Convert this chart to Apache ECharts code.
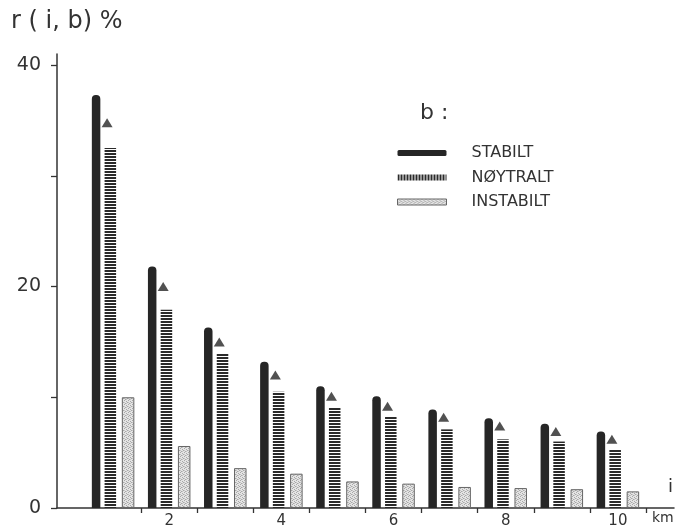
<!DOCTYPE html>
<html>
<head>
<meta charset="utf-8">
<script src="https://cdn.jsdelivr.net/npm/echarts@6/dist/echarts.min.js"></script>
<style>
html,body{margin:0;padding:0;background:#fff;}
#c{width:678px;height:529px;}
</style>
</head>
<body>
<div id="c"></div>
<script>
// ---- data ----
var categories = [1, 2, 3, 4, 5, 6, 7, 8, 9, 10];
var stabilt    = [37.3, 21.8, 16.3, 13.2, 11.0, 10.1, 8.9, 8.1, 7.6, 6.9];
var noytralt   = [32.5, 17.9, 14.0, 10.5, 9.1, 8.3, 7.1, 6.2, 6.0, 5.3];
var instabilt  = [10.0, 5.6, 3.6, 3.1, 2.4, 2.2, 1.9, 1.8, 1.7, 1.5];
var triangles  = [34.8, 20.0, 15.0, 12.0, 10.1, 9.2, 8.2, 7.4, 6.9, 6.2];
var xTickValues  = [1.5, 2.5, 3.5, 4.5, 5.5, 6.5, 7.5, 8.5, 9.5, 10.5];
var xLabelValues = [2, 4, 6, 8, 10];
var yTickValues  = [0, 10, 20, 30, 40];
var yLabelValues = [0, 20, 40];

// ---- patterns ----
function makeCanvas(w, h, draw) {
  var c = document.createElement('canvas');
  c.width = w; c.height = h;
  draw(c.getContext('2d'));
  return c;
}
var hStripe = makeCanvas(4, 3, function (g) {
  g.fillStyle = '#ffffff'; g.fillRect(0, 0, 4, 3);
  g.fillStyle = '#2a2a2a'; g.fillRect(0, 0, 4, 2);
});
var vStripe = makeCanvas(3, 4, function (g) {
  g.fillStyle = '#ffffff'; g.fillRect(0, 0, 3, 4);
  g.fillStyle = '#2a2a2a'; g.fillRect(0, 0, 2, 4);
});
var dots = makeCanvas(4, 4, function (g) {
  g.fillStyle = '#e4e4e4'; g.fillRect(0, 0, 4, 4);
  g.fillStyle = '#a8a8a8';
  g.fillRect(0, 0, 1, 1); g.fillRect(2, 1, 1, 1);
  g.fillRect(1, 3, 1, 1); g.fillRect(3, 2, 1, 1);
  g.fillStyle = '#c4c4c4';
  g.fillRect(2, 3, 1, 1); g.fillRect(0, 2, 1, 1);
});
var hPat = { image: hStripe, repeat: 'repeat' };
var vPat = { image: vStripe, repeat: 'repeat' };
var dPat = { image: dots, repeat: 'repeat' };

function pairs(vals) {
  return categories.map(function (c, i) { return [c, vals[i]]; });
}

var FONT = 'DejaVu Sans';
var ink = '#333333';

var chart = echarts.init(document.getElementById('c'), null, { renderer: 'canvas' });
chart.setOption({
  backgroundColor: '#ffffff',
  animation: false,
  title: [
    { text: 'r ( i, b) %', left: 11, top: 10, padding: 0,
      textStyle: { fontFamily: FONT, fontSize: 24, fontWeight: 'normal', color: ink } },
    { text: 'b :', left: 420, top: 102, padding: 0,
      textStyle: { fontFamily: FONT, fontSize: 22, fontWeight: 'normal', color: ink } },
    { text: 'km', left: 652, top: 511, padding: 0,
      textStyle: { fontFamily: FONT, fontSize: 14, fontWeight: 'normal', color: ink } },
    { text: 'i', left: 668, top: 478, padding: 0,
      textStyle: { fontFamily: FONT, fontSize: 18, fontWeight: 'normal', color: ink } }
  ],
  legend: {
    orient: 'vertical',
    left: 392,
    top: 140,
    itemWidth: 49,
    itemHeight: 6,
    itemGap: 8.5,
    selectedMode: false,
    textStyle: { fontFamily: FONT, fontSize: 16, lineHeight: 16, color: ink, padding: [0, 0, 0, 20] },
    data: [
      { name: 'STABILT', icon: 'roundRect', itemStyle: { color: '#262626' } },
      { name: 'NØYTRALT', icon: 'rect', itemStyle: { color: vPat } },
      { name: 'INSTABILT', icon: 'rect', itemStyle: { color: dPat, borderColor: '#666', borderWidth: 1 } }
    ]
  },
  grid: { left: 57, right: 4, top: 54, bottom: 21, containLabel: false },
  xAxis: {
    type: 'value',
    min: 0,
    max: 11,
    splitLine: { show: false },
    axisLine: { show: true, lineStyle: { color: ink, width: 1.5 } },
    axisTick: { show: true, length: 5, customValues: xTickValues, lineStyle: { color: ink, width: 1.3 } },
    axisLabel: { customValues: xLabelValues, margin: 6, fontFamily: FONT, fontSize: 15, color: ink }
  },
  yAxis: {
    type: 'value',
    min: 0,
    max: 41,
    splitLine: { show: false },
    axisLine: { show: true, lineStyle: { color: ink, width: 1.5 } },
    axisTick: { show: true, length: 6, customValues: yTickValues, lineStyle: { color: ink, width: 1.3 } },
    axisLabel: { customValues: yLabelValues, margin: 16, fontFamily: FONT, fontSize: 19, color: ink }
  },
  series: [
    { name: 'STABILT', type: 'bar', barWidth: 8.5, barGap: '50%',
      itemStyle: { color: '#262626', borderRadius: [4, 4, 0, 0] },
      data: pairs(stabilt) },
    { name: 'NØYTRALT', type: 'bar', barWidth: 11.5, barGap: '50%',
      itemStyle: { color: hPat },
      data: pairs(noytralt) },
    { name: 'INSTABILT', type: 'bar', barWidth: 12.5, barGap: '50%',
      itemStyle: { color: dPat, borderColor: '#666', borderWidth: 1 },
      data: pairs(instabilt) },
    { name: 'marker', type: 'scatter', symbol: 'triangle', symbolSize: [11, 9],
      symbolOffset: [-6, 0], itemStyle: { color: '#262626' },
      data: pairs(triangles) }
  ]
});
</script>
</body>
</html>
